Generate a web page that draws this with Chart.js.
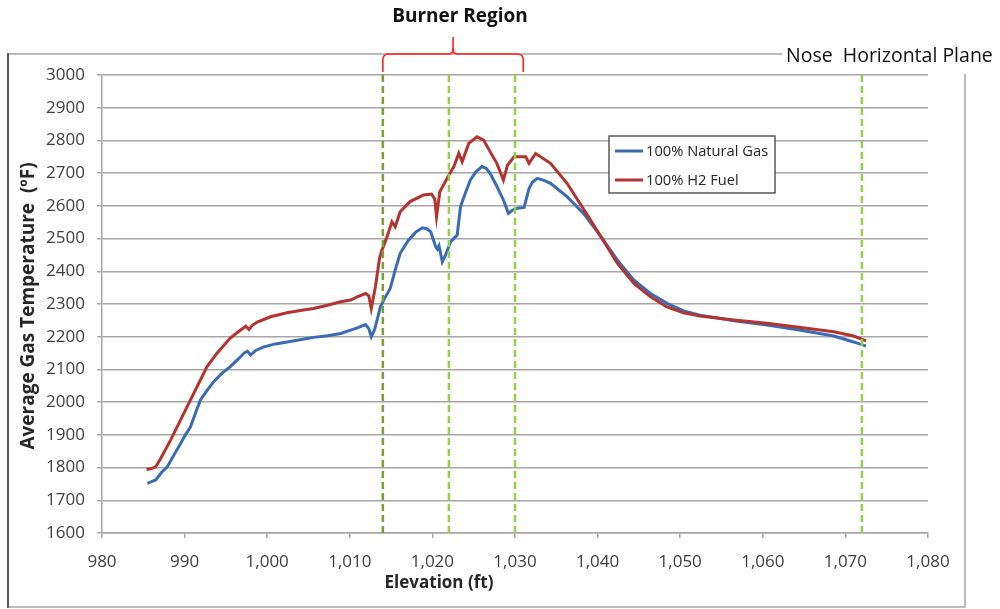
<!DOCTYPE html>
<html>
<head>
<meta charset="utf-8">
<script src="https://cdn.jsdelivr.net/npm/chart.js@4.4.1/dist/chart.umd.min.js"></script>
<style>
  html, body { margin: 0; padding: 0; background: #fff; }
  #wrap { width: 1000px; height: 609px; }
</style>
</head>
<body>
<div id="wrap"><canvas id="tempChart"></canvas></div>
<script>
// elevation (ft) / average gas temperature (F)
const ngElev = [985.5, 986.0, 986.5, 987.2, 987.9, 988.7, 989.5, 990.1, 990.7, 991.3, 991.9, 992.7, 993.5, 994.5, 995.5, 996.5, 997.2, 997.6, 998.0, 998.6, 999.6, 1001.0, 1002.4, 1004.0, 1005.6, 1007.3, 1008.9, 1010.1, 1011.0, 1011.9, 1012.3, 1012.6, 1013.0, 1013.3, 1013.7, 1014.1, 1014.9, 1015.5, 1016.1, 1017.1, 1018.0, 1018.8, 1019.3, 1019.8, 1020.4, 1020.6, 1020.8, 1021.2, 1021.6, 1022.2, 1023.0, 1023.4, 1024.0, 1024.6, 1025.3, 1026.0, 1026.5, 1027.0, 1027.8, 1028.6, 1029.2, 1029.6, 1030.1, 1031.1, 1031.7, 1032.1, 1032.7, 1033.5, 1034.3, 1036.3, 1038.3, 1040.4, 1042.4, 1044.4, 1046.4, 1048.4, 1050.4, 1052.4, 1054.5, 1056.5, 1060.5, 1064.6, 1068.6, 1071.0, 1072.5]
const ngTemp = [1752, 1757, 1762, 1785, 1802, 1838, 1873, 1900, 1924, 1965, 2006, 2035, 2062, 2088, 2108, 2132, 2150, 2156, 2144, 2158, 2169, 2178, 2184, 2191, 2198, 2203, 2210, 2220, 2228, 2237, 2225, 2200, 2222, 2251, 2291, 2312, 2348, 2404, 2455, 2495, 2520, 2533, 2530, 2521, 2475, 2468, 2478, 2429, 2450, 2490, 2511, 2597, 2640, 2679, 2705, 2720, 2715, 2699, 2660, 2618, 2577, 2585, 2592, 2595, 2653, 2672, 2684, 2678, 2669, 2628, 2577, 2506, 2434, 2373, 2332, 2302, 2279, 2266, 2257, 2249, 2236, 2220, 2202, 2184, 2171]

const h2Elev = [985.4, 986.0, 986.5, 987.1, 988.3, 989.5, 990.7, 991.9, 992.7, 993.9, 995.5, 996.5, 997.4, 997.8, 998.2, 998.8, 1000.4, 1002.4, 1004.0, 1005.6, 1007.3, 1008.9, 1010.1, 1010.9, 1011.9, 1012.3, 1012.6, 1013.1, 1013.6, 1013.9, 1014.5, 1015.1, 1015.5, 1016.1, 1017.3, 1018.9, 1019.9, 1020.3, 1020.5, 1020.9, 1022.0, 1022.6, 1023.2, 1023.6, 1024.4, 1025.4, 1026.2, 1027.0, 1027.8, 1028.6, 1029.1, 1029.9, 1030.3, 1031.3, 1031.7, 1032.5, 1034.3, 1036.3, 1038.3, 1040.4, 1042.4, 1044.4, 1046.4, 1048.4, 1050.4, 1052.4, 1056.5, 1060.5, 1064.6, 1068.6, 1071.0, 1072.5]
const h2Temp = [1794, 1797, 1802, 1828, 1884, 1945, 2006, 2067, 2108, 2149, 2195, 2215, 2232, 2222, 2235, 2245, 2261, 2273, 2280, 2286, 2296, 2307, 2312, 2322, 2332, 2325, 2286, 2353, 2440, 2465, 2505, 2551, 2536, 2582, 2613, 2633, 2636, 2620, 2567, 2643, 2694, 2720, 2761, 2735, 2791, 2811, 2801, 2765, 2730, 2679, 2725, 2750, 2750, 2750, 2730, 2760, 2730, 2669, 2590, 2506, 2424, 2363, 2322, 2291, 2273, 2263, 2251, 2241, 2228, 2215, 2202, 2187]

const seriesNames = ['100% Natural Gas', '100% H2 Fuel']
const markerElev = [1014, 1022, 1030, 1072]
const burnerSpan = [1014, 1031]
const xRange = [980, 1080]
const yRange = [1600, 3000]

const blue = '#3a6cb4'
const red = '#b3332f'
const markerColors = ['#75a135', '#8fd34a', '#8fd34a', '#8fd34a']

Chart.defaults.font.family = '"Open Sans", sans-serif'

function toPoints(xs, ys) {
    return xs.map((x, i) => ({ x: x, y: ys[i] }))
}

// vertical dashed lines (burner levels + nose plane)
const markerSets = markerElev.map((m, i) => ({
    label: 'marker' + i,
    data: [{ x: m, y: yRange[0] }, { x: m, y: yRange[1] }],
    showLine: true,
    borderColor: markerColors[i],
    borderWidth: 2.5,
    borderDash: [7, 4],
    pointRadius: 0,
    order: 0
}))

// frame, white label box behind everything
const framePlugin = {
    id: 'frame',
    beforeDraw(chart) {
        const ctx = chart.ctx
        ctx.save()
        ctx.fillStyle = '#fff'
        ctx.fillRect(0, 0, chart.width, chart.height)
        ctx.strokeStyle = '#a6a6a6'
        ctx.lineWidth = 1.5
        ctx.beginPath()
        ctx.moveTo(8, 54); ctx.lineTo(965, 54); ctx.lineTo(965, 607); ctx.lineTo(8, 607)
        ctx.stroke()
        ctx.strokeStyle = '#595959'
        ctx.lineWidth = 2
        ctx.beginPath()
        ctx.moveTo(8, 53); ctx.lineTo(8, 608)
        ctx.stroke()
        ctx.fillStyle = '#fff'
        ctx.fillRect(782, 38, 218, 36)
        ctx.restore()
    },
    afterDraw(chart) {
        const ctx = chart.ctx
        const area = chart.chartArea
        const xs = chart.scales.x
        ctx.save()

        // axis titles
        ctx.fillStyle = '#262626'
        ctx.textAlign = 'center'
        ctx.textBaseline = 'middle'
        ctx.font = 'bold 17px "Open Sans"'
        ctx.fillText('Elevation (ft)', 439, 583)
        ctx.save()
        ctx.translate(29, (area.top + area.bottom) / 2 + 2)
        ctx.rotate(-Math.PI / 2)
        ctx.font = 'bold 19px "Open Sans"'
        ctx.fillText('Average Gas Temperature  (\u00baF)', 0, 0)
        ctx.restore()

        // annotations on top
        ctx.fillStyle = '#111'
        ctx.font = 'bold 19px "Open Sans"'
        ctx.fillText('Burner Region', 460, 17)
        ctx.font = '19.5px "Open Sans"'
        ctx.textAlign = 'left'
        ctx.fillText('Nose  Horizontal Plane', 786, 56)

        // red brace over the burner region
        const x1 = xs.getPixelForValue(burnerSpan[0])
        const x2 = xs.getPixelForValue(burnerSpan[1])
        const mid = (x1 + x2) / 2
        const top = 54, bot = 72, r = 6
        ctx.strokeStyle = '#ff2020'
        ctx.lineWidth = 1.6
        ctx.beginPath()
        ctx.moveTo(x1, bot)
        ctx.lineTo(x1, top + r)
        ctx.quadraticCurveTo(x1, top, x1 + r, top)
        ctx.lineTo(mid - 4, top)
        ctx.quadraticCurveTo(mid, top, mid, top - 6)
        ctx.lineTo(mid, 37)
        ctx.moveTo(mid, top - 6)
        ctx.quadraticCurveTo(mid, top, mid + 4, top)
        ctx.lineTo(x2 - r, top)
        ctx.quadraticCurveTo(x2, top, x2, top + r)
        ctx.lineTo(x2, bot)
        ctx.stroke()

        // legend box
        const lx = 609, ly = 136, lw = 166, lh = 57
        ctx.fillStyle = '#fff'
        ctx.fillRect(lx, ly, lw, lh)
        ctx.strokeStyle = '#404040'
        ctx.lineWidth = 1.3
        ctx.strokeRect(lx, ly, lw, lh)
        ctx.font = '14.7px "Open Sans"'
        ctx.textBaseline = 'middle'
        const series = chart.data.datasets.slice(0, 2)
        series.forEach((ds, i) => {
            const y = ly + 15 + i * 29
            ctx.strokeStyle = ds.borderColor
            ctx.lineWidth = 3
            ctx.beginPath()
            ctx.moveTo(lx + 6, y); ctx.lineTo(lx + 34, y)
            ctx.stroke()
            ctx.fillStyle = '#262626'
            ctx.fillText(ds.label, lx + 37, y + 1)
        })
        ctx.restore()
    }
}

const chart = new Chart(document.getElementById('tempChart'), {
    type: 'scatter',
    data: {
        datasets: [
            {
                label: seriesNames[0],
                data: toPoints(ngElev, ngTemp),
                showLine: true,
                borderColor: blue,
                borderWidth: 3,
                pointRadius: 0,
                tension: 0,
                order: 2
            },
            {
                label: seriesNames[1],
                data: toPoints(h2Elev, h2Temp),
                showLine: true,
                borderColor: red,
                borderWidth: 3,
                pointRadius: 0,
                tension: 0,
                order: 1
            },
            ...markerSets
        ]
    },
    options: {
        responsive: true,
        maintainAspectRatio: false,
        animation: false,
        devicePixelRatio: 1,
        layout: { padding: { top: 75, right: 72, left: 0, bottom: 0 } },
        plugins: {
            legend: { display: false },
            tooltip: { enabled: false }
        },
        scales: {
            x: {
                type: 'linear',
                min: xRange[0],
                max: xRange[1],
                afterFit: (s) => { s.height = 76 },
                ticks: {
                    stepSize: 10,
                    maxRotation: 0,
                    autoSkip: false,
                    padding: 14,
                    color: '#404040',
                    font: { size: 17 },
                    callback: (v) => v.toLocaleString('en-US')
                },
                grid: { drawOnChartArea: false, tickLength: 5, color: '#a6a6a6', lineWidth: 1.5 },
                border: { color: '#a6a6a6', width: 1.5 }
            },
            y: {
                min: yRange[0],
                max: yRange[1],
                afterFit: (s) => { s.width = 102 },
                ticks: {
                    stepSize: 100,
                    padding: 12,
                    color: '#404040',
                    font: { size: 17 },
                    callback: (v) => String(v)
                },
                grid: { tickLength: 5, color: '#a6a6a6', lineWidth: 1.5 },
                border: { color: '#a6a6a6', width: 1.5 }
            }
        }
    },
    plugins: [framePlugin]
})
</script>
</body>
</html>
